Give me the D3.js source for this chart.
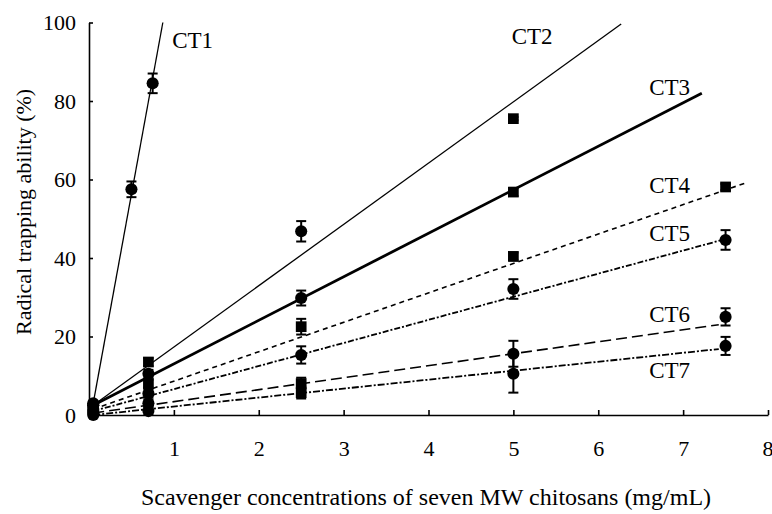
<!doctype html>
<html lang="en">
<head>
  <meta charset="UTF-8">
  <title>Radical trapping ability</title>
  <script src="https://d3js.org/d3.v7.min.js"></script>
  <style>
    body { margin: 0; background: #fff; }
    text { font-family: "Liberation Serif", "Times New Roman", serif; fill: #000; }
  </style>
</head>
<body>
  <div id="chart"></div>
  <script type="text/javascript">
    // series names
    var seriesNames = ["CT1", "CT2", "CT3", "CT4", "CT5", "CT6", "CT7"];
    // concentrations (mg/mL) measured for each series
    var concCT1 = [0.05, 0.5, 0.75];
    var concCT2 = [0.05, 0.7, 2.5, 5];
    var concCT3 = [0.05, 0.7, 2.5, 5];
    var concRest = [0.05, 0.7, 2.5, 5, 7.5];
    // mean radical trapping ability (%)
    var valCT1 = [3, 57.5, 84.5];
    var valCT2 = [2.5, 13.5, 46.8, 75.5];
    var valCT3 = [2.5, 10.5, 29.8, 56.8];
    var valCT4 = [1.5, 8, 22.5, 40.4, 58.1];
    var valCT5 = [1, 5.5, 15.3, 32.1, 44.6];
    var valCT6 = [0.5, 3, 8, 15.6, 25];
    var valCT7 = [0, 1, 5.7, 10.5, 17.6];
    // error (+/-)
    var errCT1 = [0.6, 2, 2.5];
    var errCT2 = [0.6, 1, 2.6, 0.4];
    var errCT3 = [0.6, 1, 1.9, 1];
    var errCT4 = [0.6, 1, 2, 1, 0.8];
    var errCT5 = [0.6, 1, 2.2, 2.5, 2.5];
    var errCT6 = [0.6, 1, 1.5, 3.3, 2.2];
    var errCT7 = [0.6, 1, 1.5, 4.8, 2.3];
    // marker shape per point
    var shapeCT1 = ["circle", "circle", "circle"];
    var shapeCT2 = ["circle", "square", "circle", "square"];
    var shapeCT3 = ["circle", "circle", "circle", "square"];
    var shapeCT4 = ["circle", "square", "square", "square", "square"];
    var shapeCT5 = ["circle", "circle", "circle", "circle", "circle"];
    var shapeCT6 = ["circle", "circle", "square", "circle", "circle"];
    var shapeCT7 = ["circle", "circle", "square", "circle", "circle"];
    // fitted lines: start and end points
    var fitX0 = [0.05, 0.05, 0.05, 0.05, 0.05, 0.05, 0.05];
    var fitY0 = [3, 2.5, 2.5, 1.5, 1, 0.5, 0];
    var fitX1 = [0.87, 6.27, 7.22, 7.72, 7.46, 7.42, 7.42];
    var fitY1 = [100, 99.6, 82, 59, 44.6, 23, 16.8];
    // label positions (data units)
    var labelX = [0.98, 4.98, 6.6, 6.6, 6.6, 6.6, 6.6];
    var labelY = [93.5, 94.5, 81.5, 56.5, 44.3, 23.7, 9.5];
    // tick labels
    var xTicks = [1, 2, 3, 4, 5, 6, 7, 8];
    var yTicks = [0, 20, 40, 60, 80, 100];

    var concs = [concCT1, concCT2, concCT3, concRest, concRest, concRest, concRest];
    var vals = [valCT1, valCT2, valCT3, valCT4, valCT5, valCT6, valCT7];
    var errs = [errCT1, errCT2, errCT3, errCT4, errCT5, errCT6, errCT7];
    var shapes = [shapeCT1, shapeCT2, shapeCT3, shapeCT4, shapeCT5, shapeCT6, shapeCT7];
    var lineWidths = [1.3, 1.3, 2.8, 1.6, 1.8, 1.6, 1.8];
    var lineDash = [null, null, null, "5,4", "6,2,2,2", "11,5", "7,2,2,2"];

    var width = 772, height = 514;
    var xScale = d3.scaleLinear().domain([0, 8]).range([89, 768]);
    var yScale = d3.scaleLinear().domain([0, 100]).range([415, 22.5]);

    var svg = d3.select("#chart").append("svg")
      .attr("width", width)
      .attr("height", height);

    // axes
    var xAxis = d3.axisBottom(xScale).tickValues(xTicks)
      .tickSizeInner(-5).tickSizeOuter(0).tickPadding(25);
    var yAxis = d3.axisLeft(yScale).tickValues(yTicks)
      .tickSizeInner(-4).tickSizeOuter(0).tickPadding(13);

    var gx = svg.append("g")
      .attr("transform", "translate(0," + yScale(0) + ")")
      .call(xAxis);
    var gy = svg.append("g")
      .attr("transform", "translate(" + xScale(0) + ",0)")
      .call(yAxis);
    [gx, gy].forEach(function(g) {
      g.selectAll("path, line").attr("stroke", "#000").attr("stroke-width", 1.6);
      g.selectAll("text").style("font-family", '"Liberation Serif", serif')
        .style("font-size", "22px").attr("fill", "#000");
    });
    // last x label sits at the right edge, keep it inside the frame
    gx.selectAll(".tick text").filter(function(d) { return d === 8; })
      .attr("text-anchor", "end").attr("dx", "5px");

    // fitted lines
    var data = seriesNames.map(function(name, i) {
      return {
        name: name,
        points: concs[i].map(function(c, j) {
          return { x: c, y: vals[i][j], e: errs[i][j], s: shapes[i][j] };
        }),
        fit: [[fitX0[i], fitY0[i]], [fitX1[i], fitY1[i]]],
        lx: labelX[i], ly: labelY[i]
      };
    });

    var line = d3.line()
      .x(function(d) { return xScale(d[0]); })
      .y(function(d) { return yScale(d[1]); });

    svg.append("g").selectAll("path")
      .data(data).enter()
      .append("path")
        .attr("d", function(d) { return line(d.fit); })
        .attr("fill", "none")
        .attr("stroke", "#000")
        .attr("stroke-width", function(d, i) { return lineWidths[i]; })
        .attr("stroke-dasharray", function(d, i) { return lineDash[i]; });

    // error bars and markers
    var pts = svg.append("g").selectAll("g")
      .data(data).enter()
      .append("g")
      .selectAll("g")
      .data(function(d) { return d.points; }).enter()
      .append("g");

    pts.append("line")
      .attr("x1", function(d) { return xScale(d.x); })
      .attr("x2", function(d) { return xScale(d.x); })
      .attr("y1", function(d) { return yScale(d.y - d.e); })
      .attr("y2", function(d) { return yScale(d.y + d.e); })
      .attr("stroke", "#000").attr("stroke-width", 2);
    [-1, 1].forEach(function(sg) {
      pts.append("line")
        .attr("x1", function(d) { return xScale(d.x) - 5; })
        .attr("x2", function(d) { return xScale(d.x) + 5; })
        .attr("y1", function(d) { return yScale(d.y + sg * d.e); })
        .attr("y2", function(d) { return yScale(d.y + sg * d.e); })
        .attr("stroke", "#000").attr("stroke-width", 2);
    });

    var sym = d3.symbol()
      .type(function(d) { return d.s === "square" ? d3.symbolSquare : d3.symbolCircle; })
      .size(function(d) { return d.s === "square" ? 115 : 115; });
    pts.append("path")
      .attr("transform", function(d) {
        return "translate(" + xScale(d.x) + "," + yScale(d.y) + ")";
      })
      .attr("d", sym)
      .attr("fill", "#000");

    // series labels
    svg.append("g").selectAll("text")
      .data(data).enter()
      .append("text")
        .attr("x", function(d) { return xScale(d.lx); })
        .attr("y", function(d) { return yScale(d.ly); })
        .style("font-size", "23px")
        .text(function(d) { return d.name; });

    // axis titles
    svg.append("text")
      .attr("x", 426).attr("y", 505)
      .attr("text-anchor", "middle")
      .style("font-size", "24px")
      .text("Scavenger concentrations of seven MW chitosans (mg/mL)");
    svg.append("text")
      .attr("transform", "translate(31,335) rotate(-90)")
      .attr("text-anchor", "start")
      .style("font-size", "22px")
      .text("Radical trapping ability (%)");
  </script>
</body>
</html>
